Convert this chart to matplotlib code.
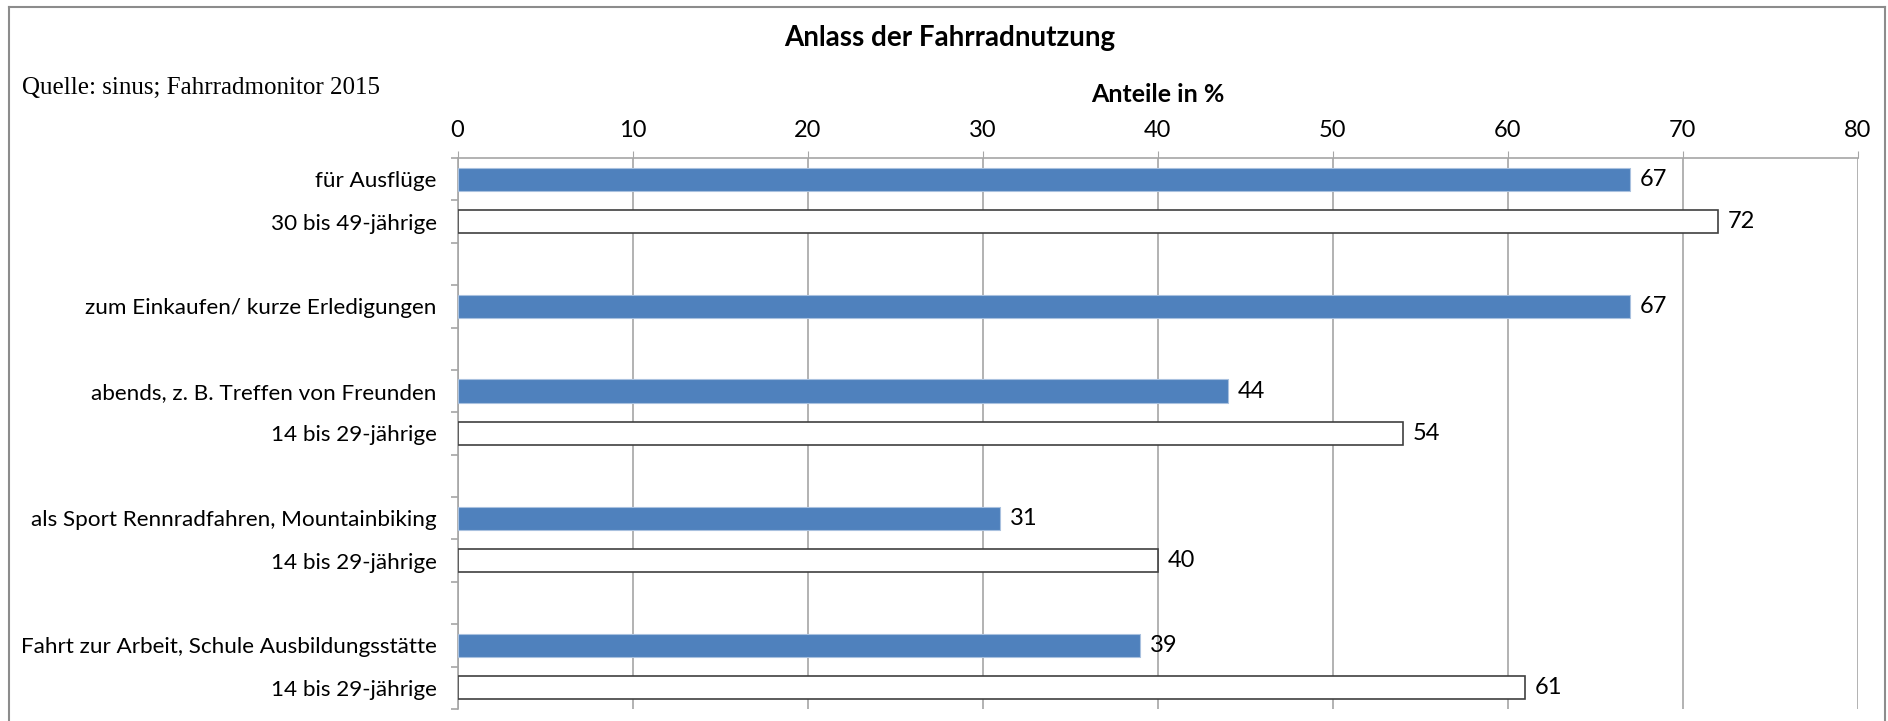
import numpy as np
import matplotlib

matplotlib.use("Agg")
import matplotlib.pyplot as plt
from matplotlib.lines import Line2D

# rows from top to bottom, "" marks an empty spacer row
row_labels = [
    "für Ausflüge",
    "30 bis 49-jährige",
    "",
    "zum Einkaufen/ kurze Erledigungen",
    "",
    "abends, z. B. Treffen von Freunden",
    "14 bis 29-jährige",
    "",
    "als Sport Rennradfahren, Mountainbiking",
    "14 bis 29-jährige",
    "",
    "Fahrt zur Arbeit, Schule Ausbildungsstätte",
    "14 bis 29-jährige",
]
# "alle" = all respondents (blue), "gruppe" = age group (white)
row_kind = ["alle", "gruppe", "", "alle", "", "alle", "gruppe", "", "alle", "gruppe", "", "alle", "gruppe"]
row_values = [67, 72, np.nan, 67, np.nan, 44, 54, np.nan, 31, 40, np.nan, 39, 61]
x_ticks = [0, 10, 20, 30, 40, 50, 60, 70, 80]

plt.rcParams["font.family"] = ["Lato", "DejaVu Sans"]

W, H = 1888, 721
figure = plt.figure(figsize=(W / 100, H / 100), dpi=100)
axes = figure.add_axes([457.6 / W, 12 / H, 1400 / W, (709 - 158) / H])

grid_color = "#a6a6a6"
rows = np.arange(len(row_labels))
for y, kind, value in zip(rows, row_kind, row_values):
    if kind == "":
        continue
    if kind == "alle":
        axes.barh(y, value, height=0.55, color="#4f81bd", edgecolor="#a9c1df", linewidth=0.8, zorder=3)
    else:
        axes.barh(y, value, height=0.55, color="white", edgecolor="#404040", linewidth=1.2, zorder=3)
    axes.annotate(
        f"{value:g}", (value, y), xytext=(7, 0), textcoords="offset points",
        ha="left", va="center", fontsize=17, color="black",
    )

axes.set_xlim(0, 80)
axes.set_ylim(len(row_labels) - 0.5, -0.5)
axes.xaxis.tick_top()
axes.set_xticks(x_ticks)
axes.tick_params(axis="x", which="major", length=5, color=grid_color, labelsize=17, pad=7)
axes.grid(axis="x", color=grid_color, linewidth=1.2, zorder=0)

axes.set_yticks(rows)
axes.set_yticklabels(row_labels, fontsize=16.2)
axes.tick_params(axis="y", which="major", length=0, pad=15)
axes.set_yticks(np.arange(len(row_labels) + 1) - 0.5, minor=True)
axes.tick_params(axis="y", which="minor", length=5, color=grid_color, width=1.2)

for side in ("right", "bottom"):
    axes.spines[side].set_visible(False)
for side in ("top", "left"):
    axes.spines[side].set_color(grid_color)
    axes.spines[side].set_linewidth(1.2)

figure.text(950 / W, 1 - 38 / H, "Anlass der Fahrradnutzung", ha="center", va="center",
            fontsize=20, fontweight="bold")
figure.text(1158 / W, 1 - 94 / H, "Anteile in %", ha="center", va="center",
            fontsize=18, fontweight="bold")
figure.text(22 / W, 1 - 88 / H, "Quelle: sinus; Fahrradmonitor 2015", ha="left", va="center",
            fontsize=18, family="Liberation Serif")

# outer chart frame (bottom edge lies outside the picture)
frame_kw = dict(color="#8c8c8c", linewidth=1.5, transform=figure.transFigure)
left_x, right_x, top_y = 9 / W, 1885 / W, 1 - 7 / H
figure.add_artist(Line2D([left_x, left_x], [0, top_y], **frame_kw))
figure.add_artist(Line2D([left_x, right_x], [top_y, top_y], **frame_kw))
figure.add_artist(Line2D([right_x, right_x], [0, top_y], **frame_kw))

figure.savefig("out.png", dpi=100)
plt.close(figure)
